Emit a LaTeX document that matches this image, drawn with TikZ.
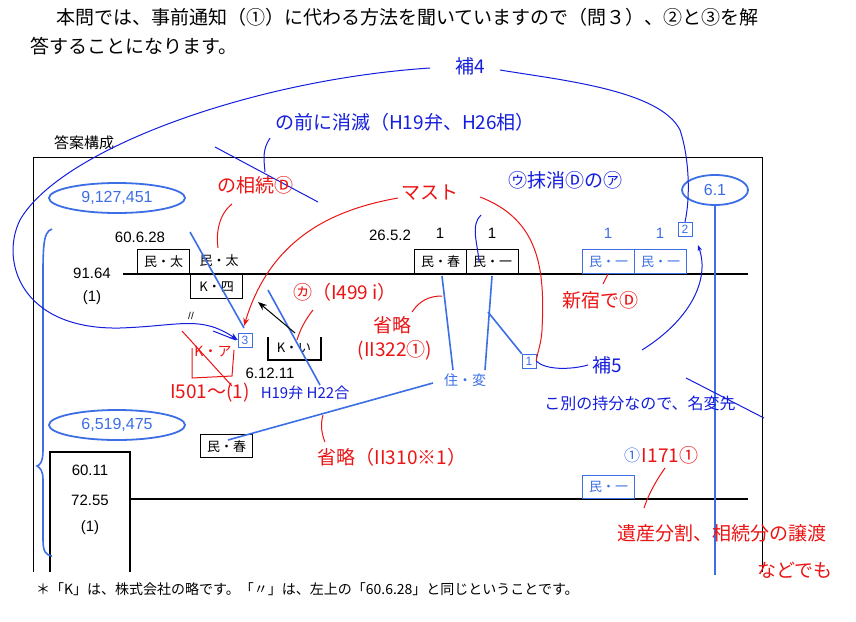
\documentclass[tikz,border=0pt]{standalone}
\usepackage{fontspec}
\setmainfont{Liberation Sans}
\newfontfamily\jp{Noto Sans CJK JP}
\usetikzlibrary{arrows.meta,shapes.geometric}
\definecolor{pb}{RGB}{60,110,230}
\definecolor{hb}{RGB}{20,30,220}
\definecolor{hr}{RGB}{235,20,20}
\tikzset{
 bx/.style={draw,line width=1.2pt,minimum width=52pt,minimum height=24pt,inner sep=0pt,font=\jp\fontsize{13}{13}\selectfont},
 pbx/.style={bx,draw=pb,text=pb},
 lbl/.style={inner sep=0pt,font=\fontsize{15}{15}\selectfont},
 sbx/.style={draw=pb,text=pb,inner sep=1.5pt,font=\fontsize{12}{12}\selectfont,minimum size=14pt},
 etx/.style={text=pb,inner sep=0pt,font=\fontsize{16}{16}\selectfont},
 eln/.style={draw=pb,line width=1.8pt},
 hred/.style={text=hr,inner sep=0pt,font=\jp\fontsize{19}{19}\selectfont},
 hblue/.style={text=hb,inner sep=0pt,font=\jp\fontsize{19}{19}\selectfont},
 rl/.style={draw=hr,line width=1pt},
 bl/.style={draw=hb,line width=1pt},
 pl/.style={draw=pb,line width=1.6pt}
}
\begin{document}
\begin{tikzpicture}[x=1pt,y=-1pt]
\useasboundingbox[fill=white] (0,0) rectangle (856,621);
\node[anchor=west,inner sep=0pt,font=\jp\fontsize{19}{19}\selectfont] (t1) at (56,17) {本問では、事前通知（①）に代わる方法を聞いていますので（問３）、②と③を解};
\node[anchor=west,inner sep=0pt,font=\jp\fontsize{19}{19}\selectfont] (t2) at (30,46) {答することになります。};
\node[anchor=west,inner sep=0pt,font=\jp\fontsize{15}{15}\selectfont] (ttl) at (54,143) {答案構成};
\draw[line width=0.8pt] (33,572) -- (33,157) -- (762,157) -- (762,572);
% main lines
\draw[line width=1.4pt] (123,274) coordinate (l1a) -- (748,274) coordinate (l1b);
\draw[line width=1.4pt] (130,499) coordinate (l2a) -- (748,499) coordinate (l2b);
% upper left
\node[lbl] (d1) at (140,237) {60.6.28};
\node[lbl] (a1) at (92,273) {91.64};
\node[lbl] (a2) at (92,298) {(1)};
\node[bx,anchor=north west] (mt) at (137,249) {民・太};
\node[inner sep=0pt,font=\jp\fontsize{13}{13}\selectfont] (mt2) at (219,261) {民・太};
\node[bx,anchor=north west] (k4) at (190,274) {K・四};
\node[inner sep=0pt,font=\fontsize{10}{10}\selectfont] (dd) at (191,316) {//};
\node[sbx] (b3) at (245,340) {3};
\node[inner sep=0pt,font=\jp\fontsize{13}{13}\selectfont] (ki) at (294,348) {K・い};
\draw[line width=1.2pt] (268,337) -- (268,360) -- (321,360) -- (321,337);
\node[lbl] (d2) at (270,373) {6.12.11};
\node[inner sep=0pt,font=\jp\fontsize{14}{14}\selectfont,text=hr] (kx) at (213,352) {K・ア};
\draw[rl] (192,348) -- (192,378) -- (232,376) -- (234,350);
\draw[rl] (182,331) -- (232,386);
% lower left
\node[bx,anchor=north west,minimum height=23pt] (mh) at (200,434) {民・春};
\draw[line width=1.2pt] (50,572) -- (50,452) -- (130,452) -- (130,572);
\node[lbl] (c1) at (90,470) {60.11};
\node[lbl] (c2) at (90,500) {72.55};
\node[lbl] (c3) at (90,528) {(1)};
\draw[eln] (117,198) ellipse [x radius=68, y radius=15];
\node[etx] (e1) at (117,198) {9,127,451};
\draw[eln] (117,425) ellipse [x radius=68, y radius=15];
\node[etx] (e2) at (117,425) {6,519,475};
\draw[pl] (52,229) .. controls (42,232) and (43,250) .. (43,300) -- (43,450) .. controls (43,462) and (40,465) .. (37,466) .. controls (40,468) and (43,470) .. (43,480) -- (43,540) .. controls (43,552) and (46,555) .. (52,556);
% middle
\node[lbl] (d3) at (390,235) {26.5.2};
\node[lbl] (n1) at (440,233) {1};
\node[lbl] (n2) at (492,233) {1};
\node[bx,anchor=north west] (mh2) at (414,249) {民・春};
\node[bx,anchor=north west] (mi) at (466,249) {民・一};
\node[text=pb,inner sep=0pt,font=\jp\fontsize{14}{14}\selectfont] (jh) at (465,380) {住・変};
\node[sbx] (b1) at (529,361) {1};
% right
\node[lbl,text=pb] (n3) at (608,233) {1};
\node[lbl,text=pb] (n4) at (660,233) {1};
\node[pbx,anchor=north west] (m1) at (582,249) {民・一};
\node[pbx,anchor=north west] (m2) at (634,249) {民・一};
\node[sbx] (b2) at (685,229) {2};
\draw[eln] (715,190) ellipse [x radius=33, y radius=15];
\node[etx] (e3) at (715,190) {6.1};
\draw[pl,line width=2.4pt] (715,205) -- (715,575);
\node[pbx,anchor=north west,minimum height=23pt] (m3) at (582,475) {民・一};
\node[text=pb,inner sep=0pt,font=\jp\fontsize{16}{16}\selectfont] (c1m) at (632,455) {①};
% footnote
\node[anchor=west,inner sep=0pt,font=\jp\fontsize{14}{14}\selectfont] (fn) at (36,589) {＊「K」は、株式会社の略です。「〃」は、左上の「60.6.28」と同じということです。};
% printed blue lines
\draw[pl] (190,232) -- (244,328);
\draw[pl] (268,290) -- (320,385);
\draw[pl] (442,276) -- (453,370);
\draw[pl] (492,276) -- (485,370);
\draw[pl] (488,312) -- (b1.north west);
\draw[pl] (228,440) -- (433,383);
\draw[-{Stealth[length=9pt]},line width=1pt] (295,333) -- (258,302);
% handwritten blue
\node[hblue] (h4) at (470,66) {補4};
\node[hblue] (hz) at (405,122) {の前に消滅（H19弁、H26相）};
\draw[bl] (270,138) .. controls (262,150) and (264,160) .. (265,172);
\draw[bl] (215,147) -- (318,202);
\node[hblue] (hm) at (565,180) {㋒抹消Ⓓの㋐};
\node[hblue] (h5) at (607,365) {補5};
\node[hblue,font=\jp\fontsize{16}{16}\selectfont] (hk) at (640,403) {こ別の持分なので、名変先};
\draw[bl] (686,378) -- (764,418);
\node[hblue,font=\jp\fontsize{15}{15}\selectfont] (hh) at (305,393) {H19弁 H22合};
\draw[bl] (500,70) .. controls (560,80) and (660,90) .. (680,130) .. controls (690,160) and (690,200) .. (b2.north);
\draw[bl,-{Stealth[length=8pt]}] (430,68) .. controls (250,80) and (60,150) .. (20,220) .. controls (0,260) and (20,330) .. (120,328) .. controls (180,326) and (200,315) .. (b3.west);
\draw[bl] (213,331) -- (236,340);
\draw[bl] (481,215) .. controls (470,225) and (478,245) .. (479,262);
\draw[bl] (b1.east) .. controls (545,370) and (570,370) .. (588,365);
\draw[bl,-{Stealth[length=6pt]}] (642,350) .. controls (690,320) and (710,280) .. (698,245);
% handwritten red
\node[hred] (r1) at (255,185) {の相続Ⓓ};
\draw[rl] (232,204) .. controls (218,215) and (216,235) .. (218,248);
\node[hred] (r2) at (430,193) {マスト};
\draw[rl,-{Stealth[length=8pt]}] (398,198) .. controls (330,210) and (270,240) .. (244,326);
\draw[rl] (480,197) .. controls (540,220) and (545,270) .. (542,330) .. controls (541,345) and (538,350) .. (b1.east);
\node[hred] (r3) at (345,292) {㋕（I499 i）};
\draw[rl] (313,310) .. controls (305,320) and (300,330) .. (297,340);
\node[hred] (r4) at (392,325) {省略};
\node[hred] (r5) at (395,350) {(II322①)};
\draw[rl] (412,312) .. controls (420,300) and (430,296) .. (442,296);
\node[hred] (r6) at (600,300) {新宿でⒹ};
\draw[rl] (603,284) -- (608,274);
\node[hred] (r7) at (210,393) {I501～(1)};
\node[hred] (r8) at (392,457) {省略（II310※1）};
\draw[rl] (323,415) .. controls (320,425) and (322,435) .. (325,442);
\node[hred] (r9) at (670,455) {I171①};
\node[hred] (r10) at (722,533) {遺産分割、相続分の譲渡};
\node[hred] (r11) at (795,570) {などでも};
\draw[rl] (644,508) .. controls (650,490) and (660,475) .. (665,468);
\end{tikzpicture}
\end{document}
